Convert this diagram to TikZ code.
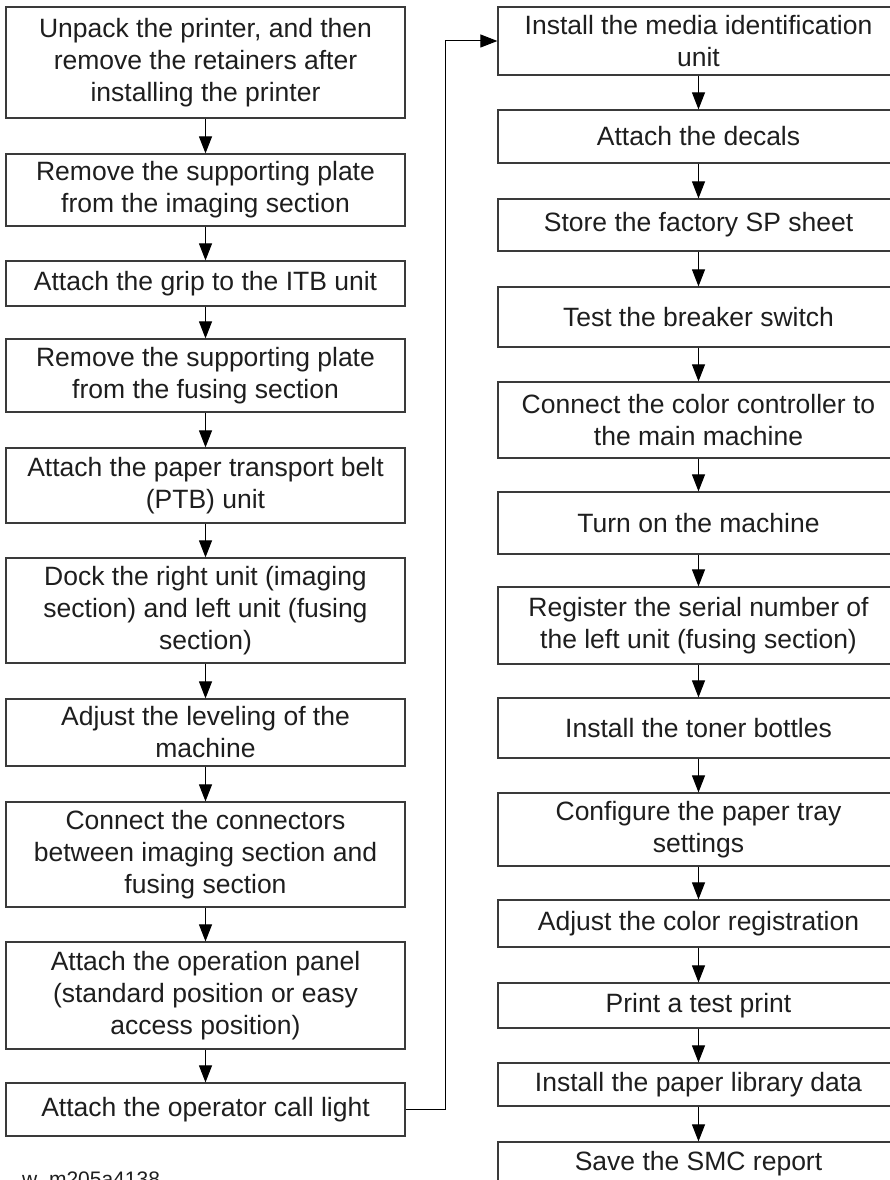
\documentclass[tikz,border=0pt]{standalone}
\usepackage{fontspec}
\setmainfont{Liberation Sans}
\usetikzlibrary{arrows.meta}
\definecolor{boxc}{HTML}{3A3A3A}
\definecolor{textc}{HTML}{1E1E1E}
\begin{document}
\begin{tikzpicture}[x=1pt,y=-1pt,
  stepbox/.style={draw=boxc, line width=1.2pt, inner sep=0pt, align=center,
    text=textc, font=\fontsize{26.5}{32}\selectfont},
  lbox/.style={stepbox, minimum width=399pt},
  rbox/.style={stepbox, minimum width=401pt},
  flow/.style={draw=black, line width=1pt, -{Triangle[length=17pt,width=13pt]}}]
\clip (0,0) rectangle (890,1180);
\fill[white] (0,0) rectangle (890,1180);

% left column
\node[lbox, minimum height=111pt] (L1) at (205.5,62.5) {Unpack the printer, and then\\remove the retainers after\\installing the printer};
\node[lbox, minimum height=72pt] (L2) at (205.5,190) {Remove the supporting plate\\from the imaging section};
\node[lbox, minimum height=45pt] (L3) at (205.5,283.5) {Attach the grip to the ITB unit};
\node[lbox, minimum height=73pt] (L4) at (205.5,375.5) {Remove the supporting plate\\from the fusing section};
\node[lbox, minimum height=75pt] (L5) at (205.5,485.5) {Attach the paper transport belt\\(PTB) unit};
\node[lbox, minimum height=105pt] (L6) at (205.5,610.5) {Dock the right unit (imaging\\section) and left unit (fusing\\section)};
\node[lbox, minimum height=67pt] (L7) at (205.5,732.5) {Adjust the leveling of the\\machine};
\node[lbox, minimum height=105pt] (L8) at (205.5,854.5) {Connect the connectors\\between imaging section and\\fusing section};
\node[lbox, minimum height=107pt] (L9) at (205.5,995.5) {Attach the operation panel\\(standard position or easy\\access position)};
\node[lbox, minimum height=53pt] (L10) at (205.5,1109.5) {Attach the operator call light};

% right column
\node[rbox, minimum height=68pt] (R1) at (698.5,41) {Install the media identification\\unit};
\node[rbox, minimum height=53pt] (R2) at (698.5,136.5) {Attach the decals};
\node[rbox, minimum height=52pt] (R3) at (698.5,225) {Store the factory SP sheet};
\node[rbox, minimum height=60pt] (R4) at (698.5,317) {Test the breaker switch};
\node[rbox, minimum height=76pt] (R5) at (698.5,420) {Connect the color controller to\\the main machine};
\node[rbox, minimum height=62pt] (R6) at (698.5,523) {Turn on the machine};
\node[rbox, minimum height=77pt] (R7) at (698.5,625.5) {Register the serial number of\\the left unit (fusing section)};
\node[rbox, minimum height=60pt] (R8) at (698.5,728) {Install the toner bottles};
\node[rbox, minimum height=73pt] (R9) at (698.5,829.5) {Configure the paper tray\\settings};
\node[rbox, minimum height=47pt] (R10) at (698.5,923.5) {Adjust the color registration};
\node[rbox, minimum height=45pt] (R11) at (698.5,1005.5) {Print a test print};
\node[rbox, minimum height=43pt] (R12) at (698.5,1084.5) {Install the paper library data};
\node[rbox, minimum height=44pt] (R13) at (698.5,1164) {Save the SMC report};

% figure code
\node[anchor=base west, inner sep=0pt, text=textc, font=\fontsize{21}{24}\selectfont] (fig) at (22,1186) {w\_m205a4138};

% connectors
\foreach \a/\b in {L1/L2,L2/L3,L3/L4,L4/L5,L5/L6,L6/L7,L7/L8,L8/L9,L9/L10,
  R1/R2,R2/R3,R3/R4,R4/R5,R5/R6,R6/R7,R7/R8,R8/R9,R9/R10,R10/R11,R11/R12,R12/R13}
  \draw[flow] (\a.south) -- (\b.north);
\draw[flow] (L10.east) -- ++(40,0) |- (R1.west);
\end{tikzpicture}
\end{document}
